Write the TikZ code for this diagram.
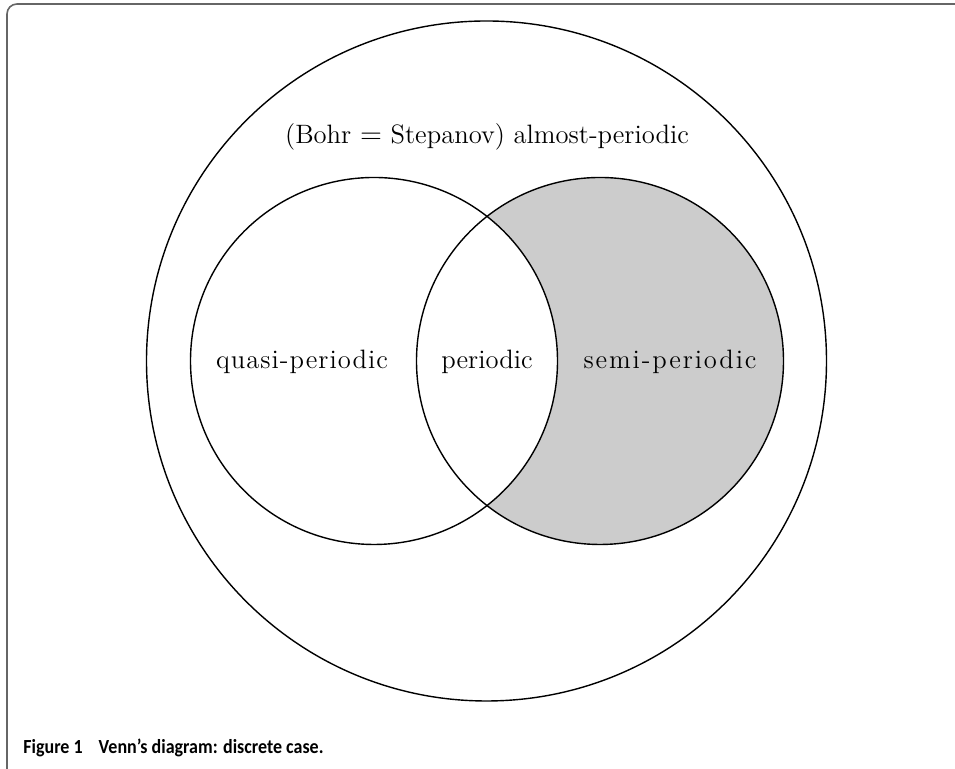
\documentclass[tikz,border=0pt]{standalone}
\usepackage{fontspec}
\newfontfamily\capfont[FakeStretch=0.9]{Carlito}
\newfontfamily\quasifont[LetterSpace=3.8]{Latin Modern Roman}
\newfontfamily\semifont[LetterSpace=7]{Latin Modern Roman}
\tikzset{
  setlabel/.style={align=center, font=\fontsize{13.3}{16}\selectfont},
  setline/.style={line width=0.7pt}
}
\begin{document}
\begin{tikzpicture}[x=0.5pt, y=0.5pt]
\useasboundingbox (0,0) rectangle (955,769);
\clip (0,0) rectangle (955,769);

% Frame around the figure
\draw[black!60, line width=0.8pt, rounded corners=5pt] (7,-30) rectangle (1000,765);

% Shaded part: semi-periodic but not quasi-periodic
\fill[black!20] (600,408) circle (183.5);
\fill[white] (374,408) circle (183.5);

% Circles
\draw[setline] (486.5,408) circle (340);
\draw[setline] (374,408) circle (183.5);
\draw[setline] (600,408) circle (183.5);

% Labels
\node[setlabel] (almost) at (487,632) {(Bohr $=$ Stepanov) almost-periodic};
\node[setlabel] (quasi) at (302,407) {\quasifont quasi-periodic};
\node[setlabel] (periodic) at (487,407) {periodic};
\node[setlabel] (semi) at (670,407) {\semifont semi-periodic};

% Caption
\node[anchor=base west, inner sep=0pt, font=\capfont\bfseries\fontsize{10}{12}\selectfont] (caption) at (23,15) {Figure 1\hspace{0.8em}Venn’s diagram: discrete case.};

\end{tikzpicture}
\end{document}
